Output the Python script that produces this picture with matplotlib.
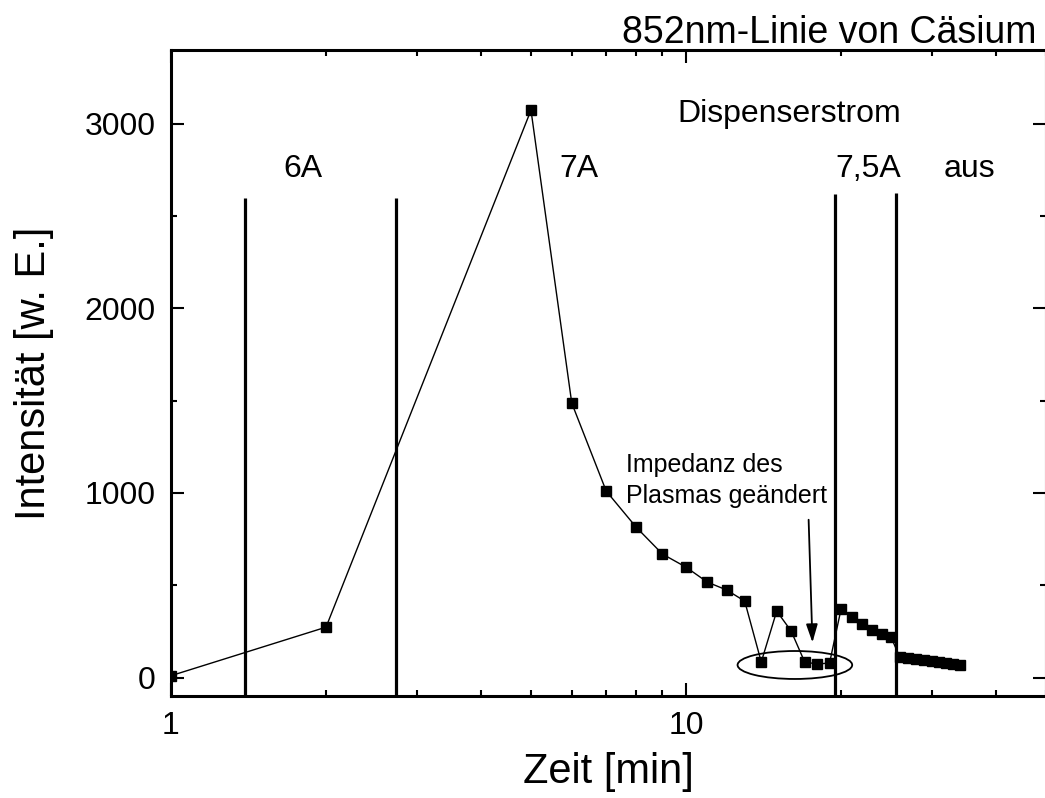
import matplotlib
matplotlib.use("Agg")
import matplotlib.pyplot as plt
from matplotlib.patches import Ellipse
from matplotlib.ticker import NullFormatter, MultipleLocator

plt.rcParams['font.family'] = ['Liberation Sans', 'DejaVu Sans']

# measured series
zeit = [1, 2, 5, 6, 7, 8, 9, 10, 11, 12, 13, 14, 15, 16, 17, 18, 19,
        20, 21, 22, 23, 24, 25, 26, 27, 28, 29, 30, 31, 32, 33, 34]
intensitaet = [10, 273, 3074, 1487, 1010, 815, 669, 598, 517, 474, 414, 84, 360, 252, 84, 73, 79,
               371, 328, 290, 257, 236, 219, 112, 105, 98, 93, 88, 83, 78, 74, 70]

# current switch markers
wechsel_x = [1.39, 2.73, 19.5, 25.6]
wechsel_top = [2600, 2600, 2620, 2625]
strom_labels = ["6A", "7A", "7,5A", "aus"]
strom_label_x = [1.80, 6.2, 22.6, 35.5]

fig = plt.figure(figsize=(10.45, 7.98), dpi=100)
ax = fig.add_axes([171 / 1045, 102 / 798, 875 / 1045, 646 / 798])

ax.plot(zeit, intensitaet, color='black', lw=1.0, marker='s', ms=7.2,
        markerfacecolor='black', markeredgecolor='black')
ax.vlines(wechsel_x, -100, wechsel_top, color='black', lw=2.3)

ax.set_xscale('log')
ax.set_xlim(1, 50)
ax.set_ylim(-100, 3400)
ax.set_xticks([1, 10], ['1', '10'])
ax.xaxis.set_minor_formatter(NullFormatter())
ax.set_yticks([0, 1000, 2000, 3000])
ax.yaxis.set_minor_locator(MultipleLocator(500))

ax.tick_params(which='both', direction='in', top=True, right=True, labelsize=23, pad=11)
ax.tick_params(which='major', length=9.5, width=1.5)
ax.tick_params(which='minor', length=4.5, width=1.5)
for sp in ax.spines.values():
    sp.set_linewidth(2.2)

ax.set_xlabel("Zeit [min]", fontsize=30, labelpad=8)
ax.set_ylabel("Intensität [w. E.]", fontsize=30, labelpad=22)

for lab, lx in zip(strom_labels, strom_label_x):
    ax.text(lx, 2710, lab, fontsize=23, ha='center', va='baseline')
ax.text(15.9, 3010, "Dispenserstrom", fontsize=23, ha='center', va='baseline')

ax.text(7.65, 945, "Impedanz des\nPlasmas geändert", fontsize=18, ha='left',
        va='baseline', linespacing=1.38)
ax.annotate("", xy=(17.6, 190), xytext=(17.3, 855),
            arrowprops=dict(arrowstyle='-|>,head_length=1.1,head_width=0.35',
                            color='black', lw=1.3, shrinkA=0, shrinkB=0))

ax.add_patch(Ellipse((0.713, 0.048), 0.131, 0.0433, transform=ax.transAxes,
                     fill=False, edgecolor='black', lw=1.3, clip_on=False))

fig.text(622 / 1045, 1 - 43 / 798, "852nm-Linie von Cäsium", fontsize=27,
         ha='left', va='baseline')

fig.savefig("out.png", dpi=100)
